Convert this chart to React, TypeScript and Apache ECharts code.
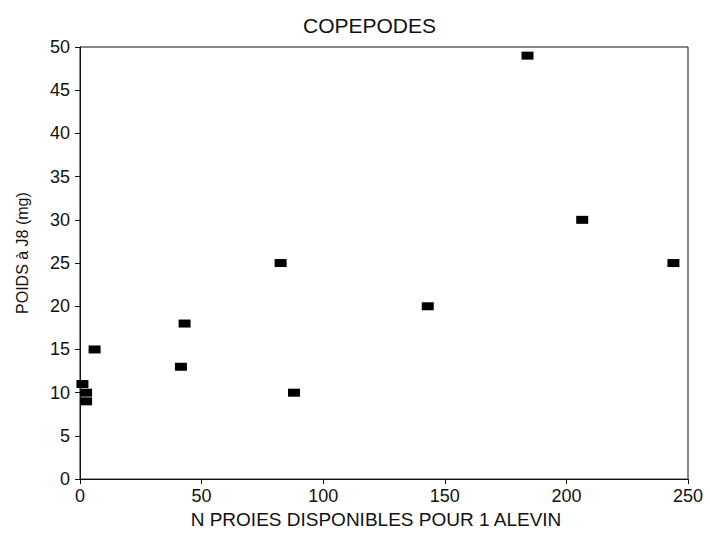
import React, { useEffect, useRef } from "react";
import * as echarts from "echarts";

const titleText = "COPEPODES";
const xAxisName = "N PROIES DISPONIBLES POUR 1 ALEVIN";
const yAxisName = "POIDS à J8 (mg)";

// N proies disponibles pour 1 alevin
const xValues = [1, 2.5, 2.5, 6, 41.5, 43, 82.5, 88, 143, 184, 206.5, 244];
// Poids à J8 (mg)
const yValues = [11, 10, 9, 15, 13, 18, 25, 10, 20, 49, 30, 25];

const FONT = "'Liberation Sans', Arial, Helvetica, sans-serif";

export default function App() {
  const ref = useRef<HTMLDivElement>(null);

  useEffect(() => {
    if (!ref.current) return;
    const chart = echarts.init(ref.current, null, { renderer: "svg" });
    const data = xValues.map((x, i) => [x, yValues[i]]);
    chart.setOption({
      animation: false,
      backgroundColor: "#ffffff",
      title: {
        text: titleText,
        left: 298,
        top: 10,
        textStyle: {
          fontFamily: FONT,
          fontSize: 21,
          fontWeight: "normal",
          color: "#111",
        },
      },
      grid: {
        left: 80,
        right: 22,
        top: 47,
        bottom: 52,
        show: true,
        borderColor: "#111",
        borderWidth: 1,
        backgroundColor: "transparent",
      },
      xAxis: {
        type: "value",
        min: 0,
        max: 250,
        interval: 50,
        name: xAxisName,
        nameLocation: "middle",
        nameGap: 30,
        nameTextStyle: {
          fontFamily: FONT,
          fontSize: 19,
          color: "#111",
          padding: [0, 16, 0, 0],
        },
        axisLine: { show: true, lineStyle: { color: "#111", width: 1 } },
        axisTick: { show: true, inside: false, length: 5, lineStyle: { color: "#111" } },
        axisLabel: { fontFamily: FONT, fontSize: 18, color: "#111", margin: 8 },
        splitLine: { show: false },
      },
      yAxis: {
        type: "value",
        min: 0,
        max: 50,
        interval: 5,
        name: yAxisName,
        nameLocation: "middle",
        nameGap: 50,
        nameRotate: 90,
        nameTextStyle: {
          fontFamily: FONT,
          fontSize: 16,
          color: "#111",
          padding: [0, 0, 0, 20],
        },
        axisLine: { show: true, lineStyle: { color: "#111", width: 1 } },
        axisTick: { show: true, inside: false, length: 5, lineStyle: { color: "#111" } },
        axisLabel: { fontFamily: FONT, fontSize: 18, color: "#111", margin: 10 },
        splitLine: { show: false },
      },
      series: [
        {
          type: "scatter",
          data,
          symbol: "rect",
          symbolSize: [12, 8],
          itemStyle: { color: "#000", opacity: 1 },
        },
      ],
    });
    return () => chart.dispose();
  }, []);

  return <div ref={ref} style={{ width: 710, height: 534, position: "absolute", left: 0, top: 0 }} />;
}
